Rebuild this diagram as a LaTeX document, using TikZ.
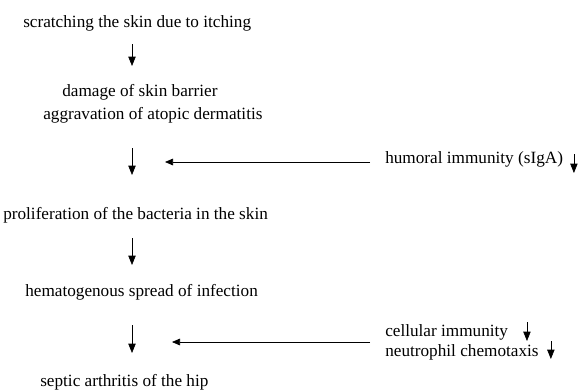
\documentclass[tikz,border=0pt]{standalone}
\usepackage{fontspec}
\setmainfont{Liberation Serif}
\usetikzlibrary{arrows.meta}

\tikzset{
  txt/.style={anchor=west,inner sep=0pt,font=\fontsize{12.9}{15}\selectfont},
  down/.style={-{Triangle[length=7pt,width=5.5pt]},line width=0.5pt},
  into/.style={-{Triangle[length=6pt,width=5pt]},line width=0.5pt}
}

\begin{document}
\begin{tikzpicture}[x=0.75pt,y=-0.75pt]
  \useasboundingbox (0,0) rectangle (580,390);
  % main chain
  \node[txt] (scratch) at (23,23)  {scratching the skin due to itching};
  \node[txt] (damage)  at (62,92)  {damage of skin barrier};
  \node[txt] (aggrav)  at (43,115) {aggravation of atopic dermatitis};
  \node[txt] (prolif)  at (3,215)  {proliferation of the bacteria in the skin};
  \node[txt] (hemato)  at (25,292) {hematogenous spread of infection};
  \node[txt] (septic)  at (40,382) {septic arthritis of the hip};
  % side factors
  \node[txt] (humoral) at (385,159) {humoral immunity (sIgA)};
  \node[txt] (cellim)  at (385,332) {cellular immunity};
  \node[txt] (neutro)  at (385,352) {neutrophil chemotaxis};
  % arrow ends
  \coordinate (a1t) at (132,44);  \coordinate (a1b) at (132,66);
  \coordinate (a2t) at (132,148); \coordinate (a2b) at (132,175);
  \coordinate (a3t) at (132,238); \coordinate (a3b) at (132,265);
  \coordinate (a4t) at (132,325); \coordinate (a4b) at (132,353);
  \coordinate (h1)  at (165,162); \coordinate (h2)  at (172,342);
  % arrows
  \draw[down] (a1t) -- (a1b);
  \draw[down] (a2t) -- (a2b);
  \draw[down] (a3t) -- (a3b);
  \draw[down] (a4t) -- (a4b);
  \draw[into] (humoral.west |- h1) ++(-15,0) -- (h1);
  \draw[into] (cellim.west |- h2) ++(-15,0) -- (h2);
  % decrease marks
  \draw[down] ([xshift=8pt]humoral.east |- 0,154) -- ([xshift=8pt]humoral.east |- 0,173);
  \draw[down] ([xshift=14pt]cellim.east |- 0,322) -- ([xshift=14pt]cellim.east |- 0,341);
  \draw[down] ([xshift=9pt]neutro.east |- 0,341) -- ([xshift=9pt]neutro.east |- 0,359);
\end{tikzpicture}
\end{document}
